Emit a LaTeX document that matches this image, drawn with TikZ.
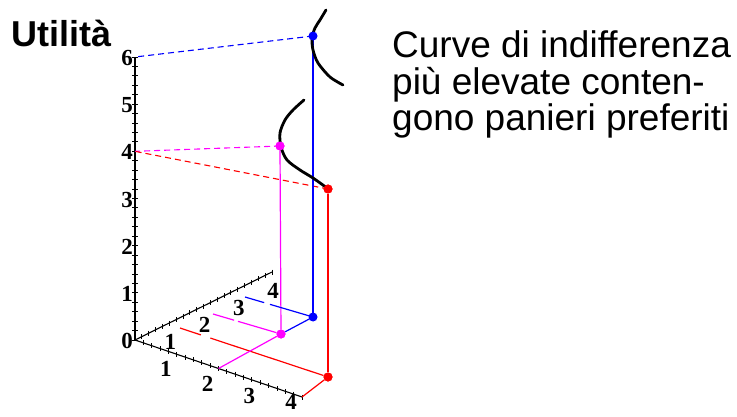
\documentclass[tikz,border=0pt]{standalone}
\usepackage{fontspec}
\setmainfont{Liberation Serif}
\newfontfamily\arialfont{Liberation Sans}
\usepackage{tikz}
\usepackage{xcolor}
\usetikzlibrary{positioning, calc}
\definecolor{cPtBlue}   {HTML}{0000FF}
\definecolor{cPtMagenta}{HTML}{FF00FF}
\definecolor{cPtRed}    {HTML}{FF0000}
\tikzset{
  pt/.style={circle, fill=#1, inner sep=0pt, minimum size=9pt},
  ticklabel/.style={font=\bfseries\fontsize{23}{23}\selectfont, inner sep=0pt},
  projline/.style={draw=#1, line width=1.1pt, dash pattern=on 6pt off 4pt},
  dropline/.style={draw=#1, line width=1.2pt},
  indiff/.style={black, line width=2.8pt, line cap=round, line join=round},
  caption/.style={font=\arialfont\fontsize{37}{37}\selectfont, inner sep=0pt, anchor=base west},
}

\begin{document}
\begin{tikzpicture}[x=1pt, y=-1pt]
  \useasboundingbox (0,0) rectangle (737,417);

  % axes
  \coordinate (O) at (135,340);
  \coordinate (Z) at (135,57);
  \coordinate (F) at (302,397);
  \coordinate (B) at (272,272);
  \draw[line width=1.1pt] (O) -- (Z);
  \draw[line width=1.1pt] (O) -- (F);
  \draw[line width=1.1pt] (O) -- (B);
  \foreach \k in {0,...,30}{
    \draw[line width=0.9pt] ($(O)!\k/30!(Z)$) ++(-3,0) -- ++(6,0);
  }
  \foreach \k in {1,...,20}{
    \draw[line width=0.9pt] ($(O)!\k/20!(F)$) ++(0,-2.5) -- ++(0,5);
    \draw[line width=0.9pt] ($(O)!\k/20!(B)$) ++(0,-2.5) -- ++(0,5);
  }
  \foreach \k in {0,...,6}{
    \node[ticklabel, anchor=east] (zl\k) at ($(O)!\k/6!(Z)+(-2,1)$) {\k};
  }
  \foreach \k/\dy in {1/15,2/15,3/13,4/5}{
    \node[ticklabel] (fl\k) at ($(O)!\k/4!(F)+(-11,\dy)$) {\k};
    \node[ticklabel] (bl\k) at ($(O)!\k/4!(B)+(1,19)$) {\k};
  }

  % baskets
  \coordinate (z6) at ($(O)!1!(Z)$);
  \coordinate (z4) at ($(O)!4/6!(Z)$);
  \coordinate (f2) at ($(O)!2/4!(F)$);
  \coordinate (rBack) at (180,328);
  \coordinate (mBack) at (213,314);
  \coordinate (bBack) at (245,297);
  \node[pt=cPtBlue, minimum size=8pt] (bTop) at (313,36) {};
  \node[pt=cPtBlue, minimum size=8pt] (bBase) at (313,317) {};
  \node[pt=cPtMagenta] (mTop) at (280,146) {};
  \node[pt=cPtMagenta] (mBase) at (281,334) {};
  \node[pt=cPtRed] (rTop) at (328,189) {};
  \node[pt=cPtRed] (rBase) at (328,377) {};

  \draw[projline=cPtBlue] (bTop.center) -- (z6);
  \draw[projline=cPtMagenta] (mTop.center) -- (z4);
  \draw[projline=cPtRed] (rTop.center) -- (z4);
  \draw[dropline=cPtBlue] (bTop) -- (bBase);
  \draw[dropline=cPtMagenta] (mTop) -- (mBase);
  \draw[dropline=cPtRed] (rTop) -- (rBase);
  \draw[dropline=cPtRed, dash pattern=on 22pt off 10pt on 200pt off 0pt] (rBack) -- (rBase);
  \draw[dropline=cPtRed] (rBase) -- (F);
  \draw[dropline=cPtMagenta, dash pattern=on 22pt off 4pt on 60pt off 0pt] (mBack) -- (mBase);
  \draw[dropline=cPtMagenta] (mBase) -- (f2);
  \draw[dropline=cPtBlue, dash pattern=on 20pt off 6pt on 60pt off 0pt] (bBack) -- (bBase);
  \draw[dropline=cPtBlue] (bBase) -- (mBase);

  % indifference curves
  \draw[indiff] plot[smooth] coordinates {(326,10) (320,20) (315,28) (312,38) (313,50) (318,63) (330,77) (343,85)};
  \draw[indiff] plot[smooth] coordinates {(304,100) (293,110) (285,120) (280,133) (281,147) (287,160) (300,170) (313,178) (327,188)};

  % dots on top
  \foreach \p/\c in {bTop/cPtBlue, bBase/cPtBlue, mTop/cPtMagenta, mBase/cPtMagenta, rTop/cPtRed, rBase/cPtRed}{
    \fill[\c] (\p) circle (4.5pt);
  }

  \node[font=\arialfont\bfseries\fontsize{36}{36}\selectfont, inner sep=0pt, anchor=base west] (utility) at (11,47) {Utilità};
  \node[caption] (capA) at (392,58) {Curve di indifferenza};
  \node[caption] (capB) at (392,95) {più elevate conten-};
  \node[caption] (capC) at (392,131) {gono panieri preferiti};
\end{tikzpicture}
\end{document}
